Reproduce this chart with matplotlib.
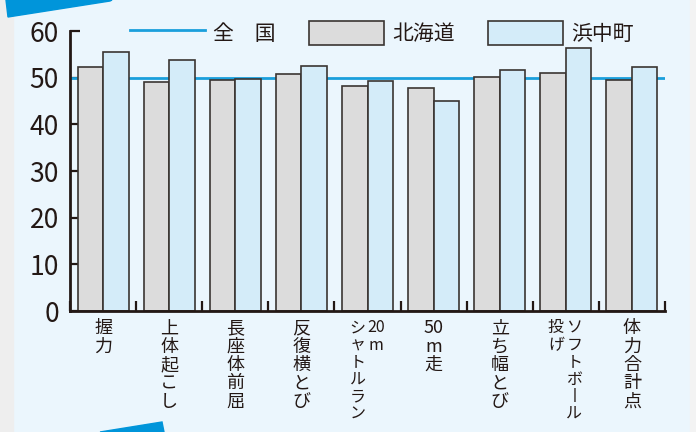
import numpy as np
import matplotlib.pyplot as plt
from matplotlib.patches import Patch, Polygon
from matplotlib.lines import Line2D

plt.rcParams['font.family'] = ['Noto Sans CJK JP', 'DejaVu Sans']

# データ
labels = [["握力"], ["上体起こし"], ["長座体前屈"], ["反復横とび"],
          ["20m", "シャトルラン"], ["50m走"], ["立ち幅とび"],
          ["ソフトボ丨ル", "投げ"], ["体力合計点"]]
hokkaido = [52.2, 49.1, 49.6, 50.8, 48.3, 47.7, 50.1, 51.1, 49.4]
hamanaka = [55.4, 53.7, 49.7, 52.4, 49.3, 45.0, 51.6, 56.4, 52.2]
zenkoku = 50

c_line = '#1a9fdc'
c_gray = '#dcdcdc'
c_blue = '#d4ecf9'
c_edge = '#3a3532'
c_axis = '#231815'

fig = plt.figure(figsize=(6.96, 4.32), dpi=100)
fig.patch.set_facecolor('#ebf6fd')

# 背景の飾り
W, H = 696, 432
def px(pts):
    return [(x / W, 1 - y / H) for x, y in pts]
fig.patches.append(Polygon(px([(0, 0), (13, 0), (13, 432), (0, 432)]), closed=True,
                           transform=fig.transFigure, color='#eeeeee', zorder=0))
fig.patches.append(Polygon(px([(690, 0), (696, 0), (696, 432), (690, 432)]), closed=True,
                           transform=fig.transFigure, color='#f3f3f3', zorder=0))
fig.patches.append(Polygon(px([(6, 0), (112, 0), (110, 1), (8, 17)]), closed=True,
                           transform=fig.transFigure, color='#0095da', zorder=0))
fig.patches.append(Polygon(px([(100, 432), (162, 422), (164, 432)]), closed=True,
                           transform=fig.transFigure, color='#0095da', zorder=0))

ax = fig.add_axes([70 / W, 1 - 311 / H, 595 / W, 280 / H])
ax.set_facecolor('none')

n = len(hokkaido)
x = np.arange(n) + 0.5
w = 0.385
ax.bar(x - w / 2, hokkaido, w, color=c_gray, edgecolor=c_edge, linewidth=1.2, zorder=3)
ax.bar(x + w / 2, hamanaka, w, color=c_blue, edgecolor=c_edge, linewidth=1.2, zorder=3)
ax.plot([0, n], [zenkoku, zenkoku], color=c_line, linewidth=2, zorder=2)

ax.set_xlim(0, n)
ax.set_ylim(0, 60)
ax.set_yticks(range(0, 61, 10))
ax.set_xticks(range(n + 1))
ax.set_xticklabels([])
ax.tick_params(axis='both', direction='in', length=7, width=1.6, color=c_axis)
ax.tick_params(axis='y', labelsize=19, labelcolor='#231815', pad=8)
for s in ['top', 'right']:
    ax.spines[s].set_visible(False)
for s in ['left', 'bottom']:
    ax.spines[s].set_linewidth(2)
    ax.spines[s].set_color(c_axis)
    ax.spines[s].set_zorder(4)

# 縦書きラベル
trans = ax.get_xaxis_transform()
for i, cols in enumerate(labels):
    if len(cols) == 1:
        offs, size = [0], 13
    else:
        offs, size = [0.13, -0.15], 11.5
    for col, off in zip(cols, offs):
        chars = []
        j = 0
        while j < len(col):
            if col[j].isdigit():
                k = j
                while k < len(col) and col[k].isdigit():
                    k += 1
                chars.append(col[j:k])
                j = k
            else:
                chars.append(col[j])
                j += 1
        ax.text(x[i] + off, -0.03, "\n".join(chars), transform=trans, ha='center', va='top',
                fontsize=size, linespacing=1.02, color='#231815')

# 凡例
handles = [Line2D([], [], color=c_line, linewidth=2),
           Patch(facecolor=c_gray, edgecolor=c_edge, linewidth=1.2),
           Patch(facecolor=c_blue, edgecolor=c_edge, linewidth=1.2)]
leg = ax.legend(handles, ["全　国", "北海道", "浜中町"], ncol=3, loc='center',
                bbox_to_anchor=(382 / W, 1 - 33 / H), bbox_transform=fig.transFigure,
                frameon=False, fontsize=15, handlelength=3.6, handleheight=1.4,
                handletextpad=0.4, columnspacing=1.6)
for t in leg.get_texts():
    t.set_color('#231815')

fig.savefig('out.png', dpi=100, facecolor=fig.get_facecolor())
